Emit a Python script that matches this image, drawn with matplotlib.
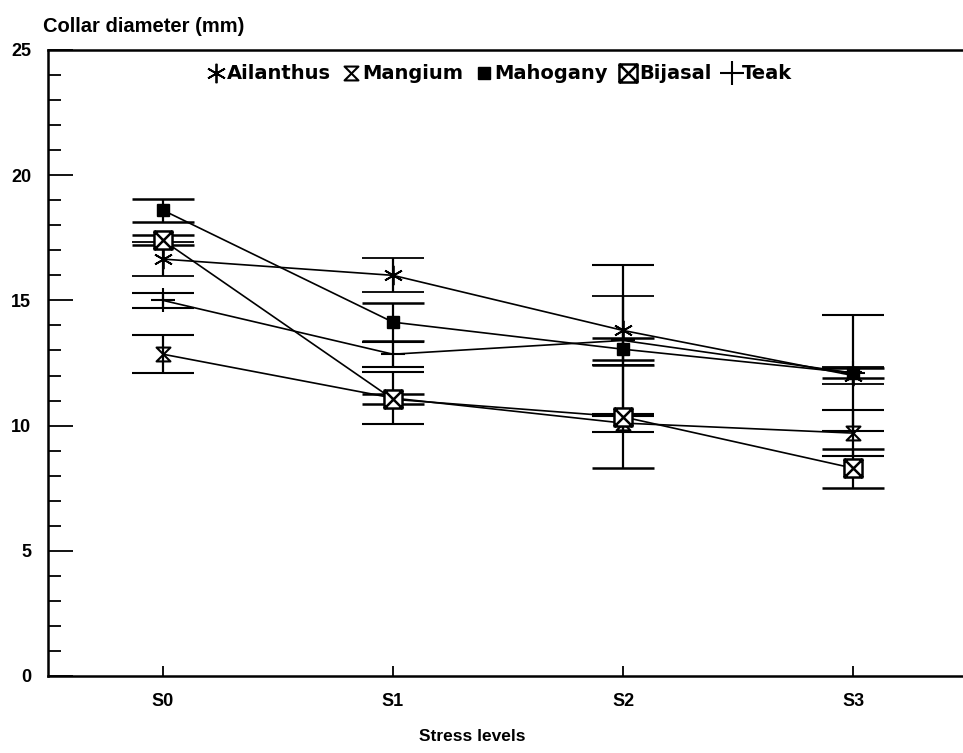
import matplotlib
matplotlib.use("Agg")
import matplotlib.pyplot as plt
from matplotlib.lines import Line2D
from matplotlib.path import Path
from matplotlib.ticker import MultipleLocator

# 数据
levels = ["S0", "S1", "S2", "S3"]
species = ["Ailanthus", "Mangium", "Mahogany", "Bijasal", "Teak"]

ailanthus = [16.65, 16.0, 13.8, 12.0]
ailanthus_err = [0.68, 0.68, 1.38, 0.35]
mangium = [12.85, 11.1, 10.1, 9.7]
mangium_err = [0.75, 1.02, 0.35, 0.93]
mahogany = [18.6, 14.13, 13.05, 12.1]
mahogany_err = [0.46, 0.76, 0.45, 0.2]
bijasal = [17.4, 11.05, 10.35, 8.3]
bijasal_err = [0.2, 0.2, 2.05, 0.78]
teak = [15.0, 12.85, 13.4, 12.1]
teak_err = [0.31, 0.5, 3.0, 2.3]

# 自定义标记
hourglass = Path([(-1, 1), (1, 1), (-1, -1), (1, -1), (-1, 1)],
                 [Path.MOVETO, Path.LINETO, Path.LINETO, Path.LINETO, Path.CLOSEPOLY])
boxx = Path([(-1, -1), (1, -1), (1, 1), (-1, 1), (-1, -1), (-1, -1), (1, 1), (-1, 1), (1, -1)],
            [Path.MOVETO, Path.LINETO, Path.LINETO, Path.LINETO, Path.CLOSEPOLY,
             Path.MOVETO, Path.LINETO, Path.MOVETO, Path.LINETO])

styles = [
    dict(marker=(6, 2, 0), ms=14, mew=1.3),
    dict(marker=hourglass, ms=10, mfc="none", mew=1.5),
    dict(marker="s", ms=8, mfc="black"),
    dict(marker=boxx, ms=13, mfc="white", mew=1.8),
    dict(marker="+", ms=17, mew=1.5),
]
values = [ailanthus, mangium, mahogany, bijasal, teak]
errors = [ailanthus_err, mangium_err, mahogany_err, bijasal_err, teak_err]

plt.rcParams['font.family'] = ['Liberation Sans', 'DejaVu Sans']
plt.rcParams['font.weight'] = 'bold'

fig = plt.figure(figsize=(9.63, 7.53), dpi=100)
ax = fig.add_axes([0.0498, 0.1023, 0.9502, 0.8313])

x = list(range(len(levels)))
for vals, errs, style in zip(values, errors, styles):
    ax.errorbar(x, vals, yerr=errs, color="black", lw=1.2, elinewidth=1.6,
                capsize=22, capthick=1.8, mec="black", **style)

ax.set_xlim(-0.5, 3.478)
ax.set_ylim(0, 25)
ax.set_xticks(x)
ax.set_xticklabels(levels, fontsize=13)
ax.yaxis.set_major_locator(MultipleLocator(5))
ax.yaxis.set_minor_locator(MultipleLocator(1))
ax.tick_params(axis="y", which="major", direction="in", length=18, width=1.3,
               labelsize=13, pad=12)
ax.tick_params(axis="y", which="minor", direction="in", length=9, width=1.3)
ax.tick_params(axis="x", direction="in", length=7, width=1.3, pad=12)
for s in ["left", "bottom", "top"]:
    ax.spines[s].set_linewidth(1.8)
ax.spines["right"].set_visible(False)

fig.text(0.045, 0.965, "Collar diameter (mm)", fontsize=14.5, ha="left", va="center")
fig.text(0.49, 0.022, "Stress levels", fontsize=12.5, ha="center", va="center")

handles = [Line2D([], [], color="black", ls="none", mec="black", **st) for st in styles]
ax.legend(handles, species, loc="upper center", bbox_to_anchor=(0.494, 1.005), ncol=5,
          frameon=False, prop=dict(family="DejaVu Sans", weight="bold", size=14),
          handlelength=0.9, handletextpad=0.1, columnspacing=0.6)

fig.savefig("out.png", dpi=100)
